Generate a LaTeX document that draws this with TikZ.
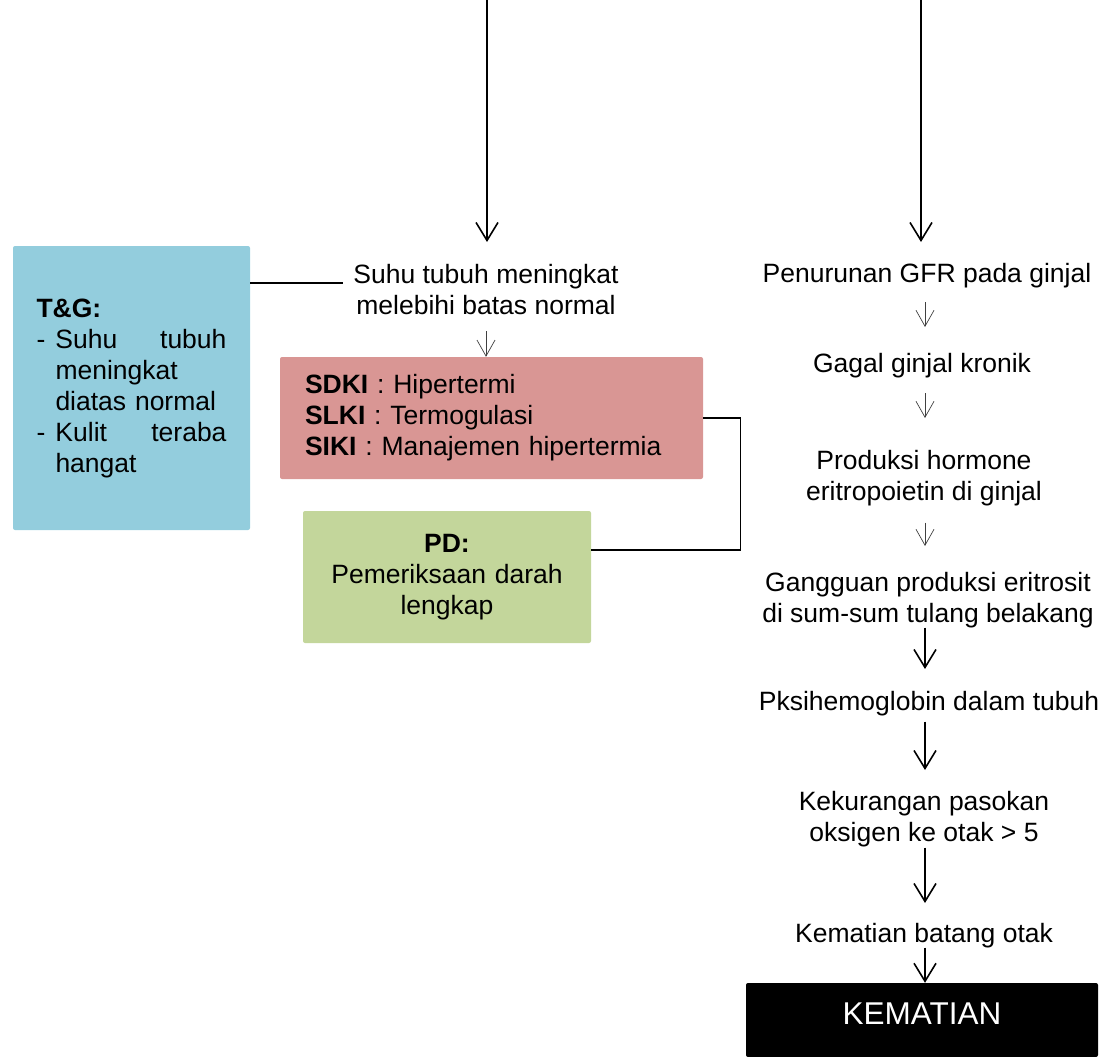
\documentclass[tikz,border=0pt]{standalone}
\usepackage{fontspec}
\setmainfont{Liberation Sans}
\usetikzlibrary{arrows.meta}
\definecolor{tgblue}{HTML}{93CDDD}
\definecolor{sdkipink}{HTML}{D99694}
\definecolor{pdgreen}{HTML}{C3D69B}
\newcommand\mybodyfont{\fontsize{26.5}{31}\selectfont}
\begin{document}
\begin{tikzpicture}[x=1pt,y=-1pt,
  txt/.style={font=\mybodyfont, inner sep=0pt, align=center, anchor=base},
  box/.style={inner sep=0pt, rounded corners=2pt, font=\mybodyfont},
  conn/.style={line width=1.3pt},
  bigarr/.style={line width=1.6pt, -{Straight Barb[length=18pt,width=22pt]}},
  smallarr/.style={line width=0.7pt, black!75, -{Straight Barb[length=16pt,width=18pt]}}
]
\useasboundingbox (0,0) rectangle (1101,1057);

% boxes
\node[box, fill=tgblue, minimum width=237pt, minimum height=284pt, text width=190pt, align=left] (tg) at (131.5,388)
  {\textbf{T\&G:}\\
   \makebox[19pt][l]{-}\hbox to 171pt{Suhu\hfill tubuh}\\
   \hspace*{19pt}meningkat\\
   \hspace*{19pt}diatas normal\\
   \makebox[19pt][l]{-}\hbox to 171pt{Kulit\hfill teraba}\\
   \hspace*{19pt}hangat};
\node[box, fill=sdkipink, minimum width=423pt, minimum height=122pt, text width=373pt, align=left] (pink) at (491.5,418)
  {\textbf{SDKI} : Hipertermi\\\textbf{SLKI} : Termogulasi\\\textbf{SIKI} : Manajemen hipertermia};
\node[box, fill=pdgreen, minimum width=288pt, minimum height=132pt, text width=260pt, align=center] (pd) at (447,577)
  {\textbf{PD:}\\Pemeriksaan darah\\lengkap};
\node[box, fill=black, text=white, minimum width=352pt, minimum height=74pt, font=\fontsize{31.5}{36}\selectfont, text depth=12pt] (kem) at (922,1020) {KEMATIAN};

% text nodes (base = baseline of the last line)
\node[txt] (suhu) at (486,314) {Suhu tubuh meningkat\\melebihi batas normal};
\node[txt] (gfr) at (927,282) {Penurunan GFR pada ginjal};
\node[txt] (gagal) at (922,372) {Gagal ginjal kronik};
\node[txt] (prod) at (924,500) {Produksi hormone\\eritropoietin di ginjal};
\node[txt] (gang) at (928,622) {Gangguan produksi eritrosit\\di sum-sum tulang belakang};
\node[txt] (pksi) at (929,710) {Pksihemoglobin dalam tubuh};
\node[txt] (kek) at (924,841) {Kekurangan pasokan\\oksigen ke otak > 5};
\node[txt] (kbo) at (924,942) {Kematian batang otak};

% helper coordinates
\coordinate (top1) at (487,0);
\coordinate (top2) at (921,0);
\coordinate (rcol) at (925,0);
\coordinate (suhuTop) at ([yshift=31pt]suhu.base);
\coordinate (suhuL) at ([xshift=-10pt]suhu.west);

% connectors
\draw[conn] (suhuTop -| tg.east) -- (suhuTop -| suhuL);
\draw[conn] (pink.east) -- ++(37,0) |- ([yshift=27pt]pd.east);

% arrows
\draw[bigarr, shorten >=72pt] (top1) -- (top1 |- suhu.base);
\draw[bigarr, shorten >=40pt] (top2) -- (top2 |- gfr.base);
\draw[smallarr, shorten <=17pt] (suhu.south) -- (suhu.south |- pink.north);
\draw[smallarr, shorten <=20pt, shorten >=45pt] (gfr.base -| rcol) -- (gagal.base -| rcol);
\draw[smallarr, shorten <=21pt, shorten >=82pt] (gagal.base -| rcol) -- (prod.base -| rcol);
\draw[smallarr, shorten <=17pt, shorten >=76pt] (prod.south -| rcol) -- (gang.base -| rcol);
\draw[bigarr, shorten >=41pt] (gang.south -| rcol) -- (pksi.base -| rcol);
\draw[bigarr, shorten <=6pt, shorten >=71pt] (pksi.south -| rcol) -- (kek.base -| rcol);
\draw[bigarr, shorten <=1pt, shorten >=39pt] (kek.south -| rcol) -- (kbo.base -| rcol);
\draw[bigarr] (kbo.south -| rcol) -- (kem.north -| rcol);
\end{tikzpicture}
\end{document}
